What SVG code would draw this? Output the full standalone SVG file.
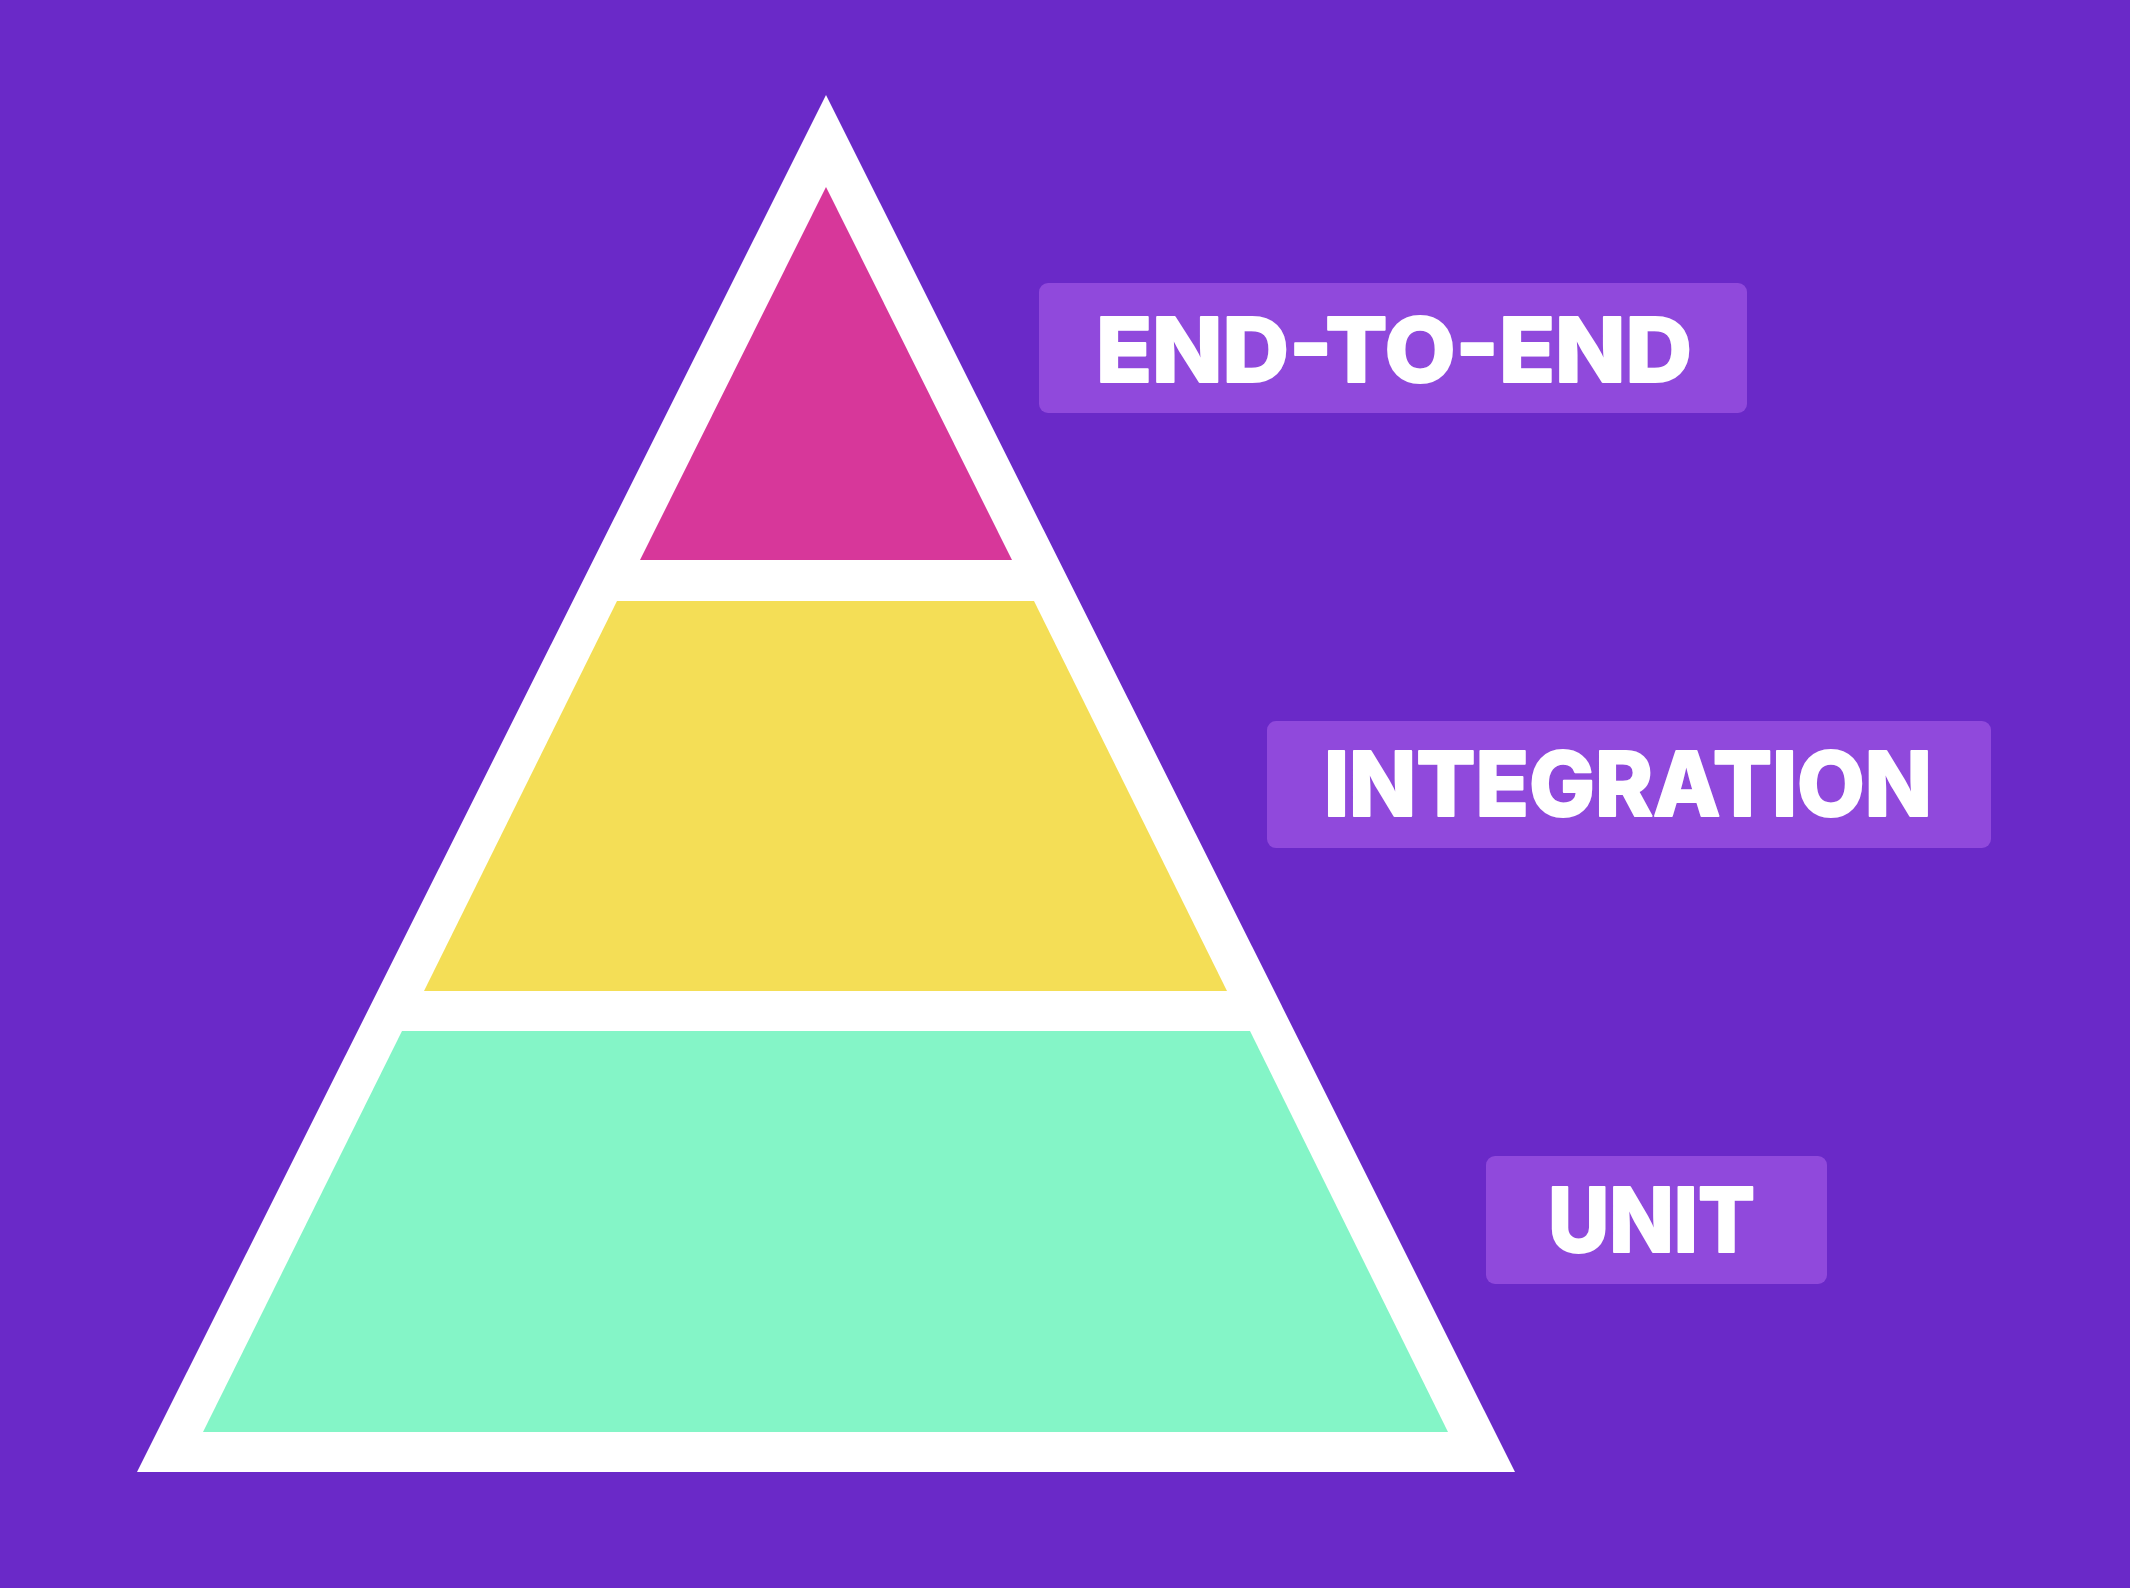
<svg xmlns="http://www.w3.org/2000/svg" width="2130" height="1588" viewBox="0 0 2130 1588">
  <style>
    .tag { fill: #9049DC; }
    .label { fill: #FFFFFF; stroke: #FFFFFF; stroke-width: 2px; stroke-linejoin: round; font-family: "Inter", "Liberation Sans", sans-serif; font-weight: 800; font-size: 90px; }
  </style>
  <!-- background -->
  <rect x="0" y="0" width="2130" height="1588" fill="#6A29C8"/>

  <!-- pyramid frame -->
  <g id="pyramid">
    <polygon points="826,95 1515,1472 137,1472" fill="#FFFFFF"/>
  </g>

  <!-- tiers -->
  <g id="tier-e2e">
    <polygon points="826,187 1012,560 640,560" fill="#D7379A"/>
  </g>
  <g id="tier-integration">
    <polygon points="617,601 1034,601 1227,991 424,991" fill="#F4DE56"/>
  </g>
  <g id="tier-unit">
    <polygon points="402,1031 1250,1031 1448,1432 203,1432" fill="#84F5C7"/>
  </g>

  <!-- labels -->
  <g id="label-e2e">
    <rect class="tag" x="1039" y="283" width="708" height="130" rx="9"/>
    <text class="label" x="1096" y="382" textLength="596" lengthAdjust="spacingAndGlyphs">END-TO-END</text>
  </g>
  <g id="label-integration">
    <rect class="tag" x="1267" y="721" width="724" height="127" rx="9"/>
    <text class="label" x="1324" y="816" textLength="608" lengthAdjust="spacingAndGlyphs">INTEGRATION</text>
  </g>
  <g id="label-unit">
    <rect class="tag" x="1486" y="1156" width="341" height="128" rx="9"/>
    <text class="label" x="1548" y="1252" textLength="207" lengthAdjust="spacingAndGlyphs">UNIT</text>
  </g>

  <g id="connectors"/>
</svg>
